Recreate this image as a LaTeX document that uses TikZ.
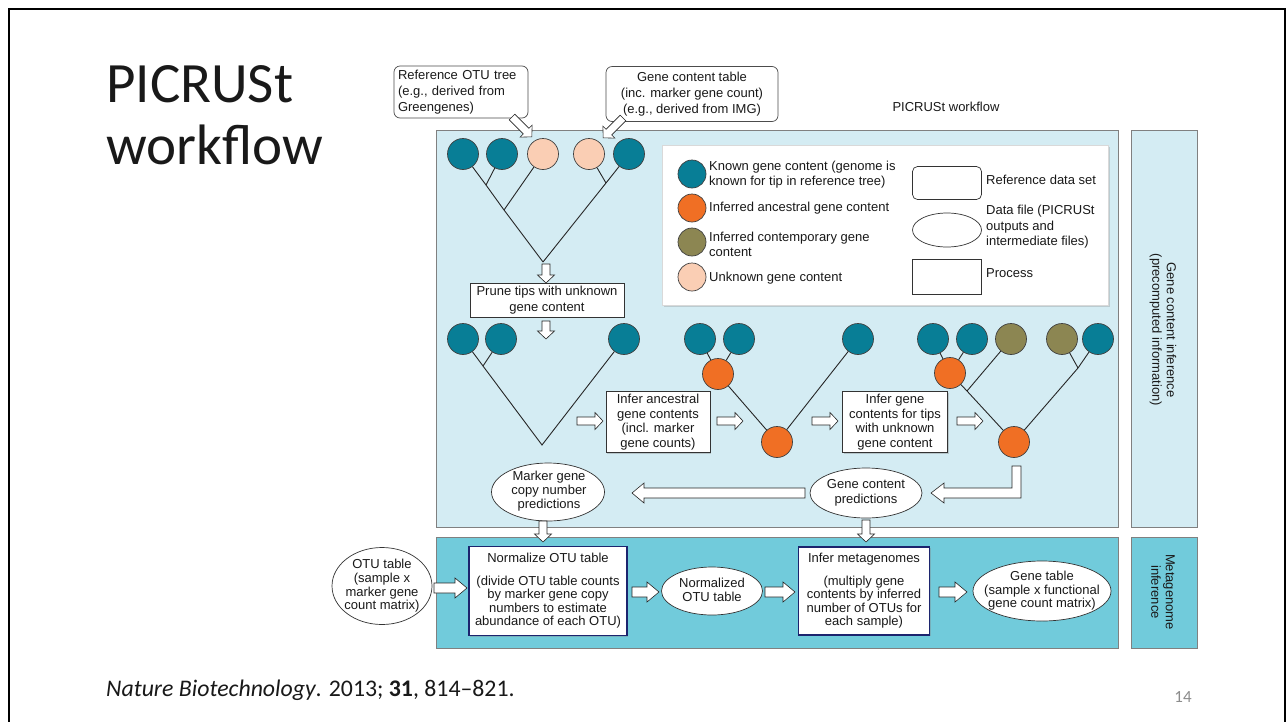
\documentclass[tikz,border=0pt]{standalone}
\usepackage{fontspec}
\setmainfont{Liberation Sans}
\newfontfamily\slidefont{Carlito}
\usetikzlibrary{shapes.geometric,shadows}
\definecolor{tealc}{RGB}{8,126,150}
\definecolor{orangec}{RGB}{240,111,36}
\definecolor{olivec}{RGB}{140,134,82}
\definecolor{peachc}{RGB}{250,206,180}
\definecolor{panelA}{RGB}{212,236,243}
\definecolor{panelB}{RGB}{113,203,219}
\definecolor{navy}{RGB}{28,36,110}
\tikzset{
  pics/sarr/.style={code={\draw[fill=white, draw=black!85, line width=0.6pt, line join=miter]
    (0,-4) -- ({#1-8},-4) -- ({#1-8},-8.5) -- (#1,0) -- ({#1-8},8.5) -- ({#1-8},4) -- (0,4) -- cycle;}},
  pics/larr/.style={code={\draw[fill=white, draw=black!85, line width=0.6pt, line join=miter]
    (0,-5) -- ({#1-12},-5) -- ({#1-12},-10) -- (#1,0) -- ({#1-12},10) -- ({#1-12},5) -- (0,5) -- cycle;}},
}
\begin{document}
\begin{tikzpicture}[x=1pt,y=-1pt,
  every node/.style={font=\fontsize{13}{14.5}\selectfont, text=black!90},
  gene/.style={circle, draw=black!75, line width=0.7pt, minimum size=31pt, inner sep=0pt},
  leg/.style={gene, minimum size=28pt},
  branch/.style={line width=0.9pt, draw=black!85},
  proc/.style={draw=black!80, fill=white, line width=0.7pt, align=center, inner sep=2pt,
    drop shadow={shadow xshift=1.2pt, shadow yshift=-1.2pt, opacity=0.35}},
  bproc/.style={proc, draw=navy, line width=1.1pt, font=\fontsize{13}{13.5}\selectfont},
  datafile/.style={ellipse, draw=black!80, fill=white, line width=0.7pt, inner sep=0pt},
  txt/.style={align=center, inner sep=0pt},
  callout/.style={draw=black!70, fill=white, rounded corners=6pt, line width=0.7pt, inner sep=3pt,
    font=\fontsize{13}{16}\selectfont},
  panel/.style={draw=black!50, line width=0.7pt,
    drop shadow={shadow xshift=1pt, shadow yshift=-1pt, opacity=0.3}},
]
\useasboundingbox (0,0) rectangle (1288,721);
\fill[white] (0,0) rectangle (1288,721);
% slide frame
\draw[line width=2pt] (9,740) -- (9,9) -- (1285,9) -- (1285,740);

% title and citation
\node[anchor=base west, inner sep=0pt, font=\slidefont\fontsize{57}{62}\selectfont] (title1) at (106,102) {PICRUSt};
\node[anchor=base west, inner sep=0pt, font=\slidefont\fontsize{57}{62}\selectfont] (title2) at (106,164) {workflow};
\node[anchor=base west, inner sep=0pt, font=\slidefont\fontsize{23.8}{28}\selectfont] (cite) at (106,696)
  {\textit{Nature Biotechnology}. 2013; \textbf{31}, 814–821.};
\node[anchor=base, inner sep=0pt, font=\slidefont\fontsize{17}{20}\selectfont, text=black!45] (pageno) at (1183,702) {14};

% panels
\path[panel, fill=panelA] (436,130) rectangle (1118,527);
\path[panel, fill=panelB] (436,537) rectangle (1118,648);
\path[panel, fill=panelA] (1131,130) rectangle (1197,527);
\path[panel, fill=panelB] (1131,537) rectangle (1197,648);
\node[rotate=-90, txt] (sideA) at (1163,330) {Gene content inference\\(precomputed information)};
\node[rotate=-90, txt] (sideB) at (1163,592) {Metagenome\\inference};
\node[txt] (wflabel) at (946,107) {PICRUSt workflow};

% callouts
\node[callout, minimum width=134pt, minimum height=52pt, text width=126pt, align=left] (refotu) at (461,92)
  {Reference OTU tree\\(e.g., derived from\\Greengenes)};
\node[callout, minimum width=172pt, minimum height=55pt, align=center] (gctab) at (692,94)
  {Gene content table\\(inc. marker gene count)\\(e.g., derived from IMG)};
\pic[rotate=-45] at (512,117) {sarr=28};
\pic[rotate=-135] at (623,118) {sarr=28};

% legend
\path[draw=black!15, fill=white, drop shadow={shadow xshift=1.5pt, shadow yshift=-1.5pt, opacity=0.3}] (662,145) rectangle (1108,305);
\node[leg, fill=tealc] (lg1) at (692,174) {};
\node[leg, fill=orangec] (lg2) at (692,208) {};
\node[leg, fill=olivec] (lg3) at (692,242) {};
\node[leg, fill=peachc] (lg4) at (692,277) {};
\node[anchor=west, align=left, inner sep=0pt, font=\fontsize{13}{15}\selectfont] (lt1) at (709,175) {Known gene content (genome is\\known for tip in reference tree)};
\node[anchor=west, inner sep=0pt] (lt2) at (709,208) {Inferred ancestral gene content};
\node[anchor=west, align=left, inner sep=0pt, font=\fontsize{13}{15}\selectfont] (lt3) at (709,244) {Inferred contemporary gene\\content};
\node[anchor=west, inner sep=0pt] (lt4) at (709,278) {Unknown gene content};
\node[draw=black!80, line width=0.7pt, rounded corners=5pt, minimum width=69pt, minimum height=33pt] (lsref) at (947,183) {};
\node[datafile, minimum width=69pt, minimum height=34pt] (lsfile) at (947,230) {};
\node[draw=black!80, line width=0.7pt, minimum width=69pt, minimum height=35pt] (lsproc) at (947,277) {};
\node[anchor=west, inner sep=0pt] (lst1) at (986,180) {Reference data set};
\node[anchor=west, align=left, inner sep=0pt, font=\fontsize{13}{15.5}\selectfont] (lst2) at (986,227) {Data file (PICRUSt\\outputs and\\intermediate files)};
\node[anchor=west, inner sep=0pt] (lst3) at (986,273) {Process};

% tree 1
\node[gene, fill=tealc] (c1) at (463,154) {};
\node[gene, fill=tealc] (c2) at (502,154) {};
\node[gene, fill=peachc] (c3) at (543,154) {};
\node[gene, fill=peachc] (c4) at (589,154) {};
\node[gene, fill=tealc] (c5) at (629,154) {};
\coordinate (j12) at (486,185);
\coordinate (j3) at (504,210);
\coordinate (r1) at (543,262);
\coordinate (j45) at (606,183);
\draw[branch] (c1) -- (j12) -- (j3) -- (r1);
\draw[branch] (c2) -- (j12);
\draw[branch] (c3) -- (j3);
\draw[branch] (c4) -- (j45);
\draw[branch] (c5) -- (j45) -- (r1);
\pic[rotate=-90] at (546,264) {sarr=19};
\node[proc, minimum width=154pt, minimum height=34pt, font=\fontsize{13}{15.5}\selectfont] (prune) at (547,300) {Prune tips with unknown\\gene content};
\pic[rotate=-90] at (546,321) {sarr=18};

% tree 2
\node[gene, fill=tealc] (d1) at (463,339) {};
\node[gene, fill=tealc] (d2) at (501,339) {};
\node[gene, fill=tealc] (d3) at (624,339) {};
\coordinate (k12) at (483,366);
\coordinate (r2) at (542,445);
\draw[branch] (d1) -- (k12) -- (r2) -- (d3);
\draw[branch] (d2) -- (k12);
\pic at (577,421) {sarr=26};
\node[proc, minimum width=104pt, minimum height=61pt] (infanc) at (658,422) {Infer ancestral\\gene contents\\(incl. marker\\gene counts)};
\pic at (717,421) {sarr=26};

% tree 3
\node[gene, fill=tealc] (ta) at (700,339) {};
\node[gene, fill=tealc] (tb) at (739,339) {};
\node[gene, fill=orangec] (oj) at (718,374) {};
\node[gene, fill=tealc] (tc) at (858,339) {};
\node[gene, fill=orangec] (orr) at (777,442) {};
\draw[branch] (ta) -- (oj);
\draw[branch] (tb) -- (oj);
\draw[branch] (oj) -- (orr);
\draw[branch] (orr) -- (tc);
\pic at (812,421) {sarr=26};
\node[proc, minimum width=105pt, minimum height=61pt] (infgene) at (895,422) {Infer gene\\contents for tips\\with unknown\\gene content};
\pic at (957,421) {sarr=26};

% tree 4
\node[gene, fill=tealc] (ua) at (933,339) {};
\node[gene, fill=tealc] (ub) at (972,339) {};
\node[gene, fill=olivec] (va) at (1011,339) {};
\node[gene, fill=olivec] (vb) at (1062,339) {};
\node[gene, fill=tealc] (uc) at (1098,339) {};
\node[gene, fill=orangec] (pj) at (950,373) {};
\node[gene, fill=orangec] (pr) at (1014,442) {};
\coordinate (m1) at (967,391);
\coordinate (m2) at (1078,368);
\draw[branch] (ua) -- (pj);
\draw[branch] (ub) -- (pj);
\draw[branch] (pj) -- (m1) -- (pr);
\draw[branch] (va) -- (m1);
\draw[branch] (uc) -- (m2) -- (pr);
\draw[branch] (vb) -- (m2);

% outputs of gene content inference
\draw[fill=white, draw=black!85, line width=0.6pt, line join=miter]
  (1012,466) -- (1021,466) -- (1021,498) -- (944,498) -- (944,503) -- (931,493) -- (944,483) -- (944,488) -- (1012,488) -- cycle;
\node[datafile, minimum width=112pt, minimum height=50pt] (gcpred) at (866,493) {};
\node[txt, font=\fontsize{13}{15}\selectfont] (gcpredt) at (gcpred) {Gene content\\predictions};
\pic[rotate=180] at (805,493) {larr=173};
\node[datafile, minimum width=113pt, minimum height=58pt] (mgpred) at (548,492) {};
\node[txt, font=\fontsize{13}{14}\selectfont] (mgpredt) at (549,491) {Marker gene\\copy number\\predictions};
\pic[rotate=-90] at (543,521) {sarr=21};
\pic[rotate=-90] at (866,520) {sarr=22};

% metagenome inference
\node[datafile, minimum width=100pt, minimum height=77pt] (otu) at (382,586) {};
\node[txt, font=\fontsize{13}{13.6}\selectfont] (otut) at (382,586) {OTU table\\(sample x\\marker gene\\count matrix)};
\pic at (434,588) {larr=33};
\node[bproc, minimum width=158pt, minimum height=89pt] (norm) at (548,591) {Normalize OTU table\\[9pt](divide OTU table counts\\by marker gene copy\\numbers to estimate\\abundance of each OTU)};
\pic at (632,592) {larr=27};
\node[datafile, minimum width=101pt, minimum height=48pt] (normotu) at (712,591) {};
\node[txt, font=\fontsize{13}{13.5}\selectfont] (normotut) at (712,590) {Normalized\\OTU table};
\pic at (765,592) {larr=30};
\node[bproc, minimum width=131pt, minimum height=88pt] (infmeta) at (864,591) {Infer metagenomes\\[9pt](multiply gene\\contents by inferred\\number of OTUs for\\each sample)};
\pic at (939,592) {larr=28};
\node[datafile, minimum width=138pt, minimum height=60pt] (genetab) at (1042,591) {};
\node[txt, font=\fontsize{13}{13.5}\selectfont] (genetabt) at (genetab) {Gene table\\(sample x functional\\gene count matrix)};
\end{tikzpicture}
\end{document}
